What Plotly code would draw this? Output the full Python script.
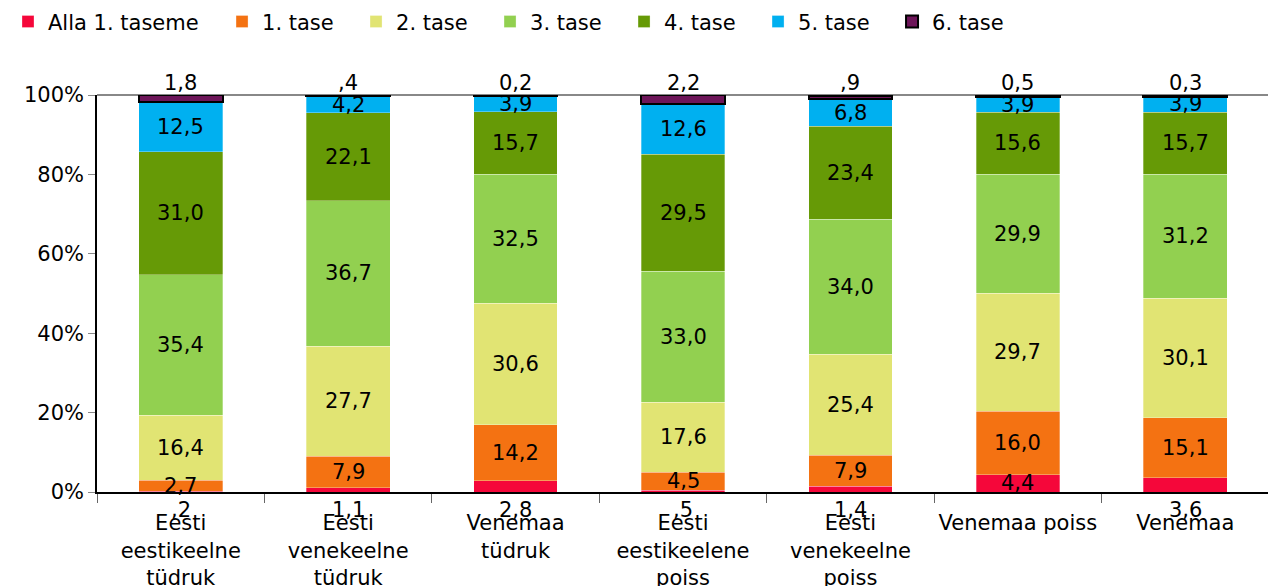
import numpy as np
import plotly.graph_objects as go

categories = ["Eesti<br>eestikeelne<br>tüdruk", "Eesti<br>venekeelne<br>tüdruk", "Venemaa<br>tüdruk",
              "Eesti<br>eestikeelene<br>poiss", "Eesti<br>venekeelne<br>poiss", "Venemaa poiss", "Venemaa"]
series_names = ["Alla 1. taseme", "1. tase", "2. tase", "3. tase", "4. tase", "5. tase", "6. tase"]

alla = [0.2, 1.1, 2.8, 0.5, 1.4, 4.4, 3.6]
tase1 = [2.7, 7.9, 14.2, 4.5, 7.9, 16.0, 15.1]
tase2 = [16.4, 27.7, 30.6, 17.6, 25.4, 29.7, 30.1]
tase3 = [35.4, 36.7, 32.5, 33.0, 34.0, 29.9, 31.2]
tase4 = [31.0, 22.1, 15.7, 29.5, 23.4, 15.6, 15.7]
tase5 = [12.5, 4.2, 3.9, 12.6, 6.8, 3.9, 3.9]
tase6 = [1.8, 0.4, 0.2, 2.2, 0.9, 0.5, 0.3]

# label texts as printed in the source
alla_text = [",2", "1,1", "2,8", ",5", "1,4", "4,4", "3,6"]
tase6_text = ["1,8", ",4", "0,2", "2,2", ",9", "0,5", "0,3"]
ytick_vals = [0, 20, 40, 60, 80, 100]
ytick_text = ["0%", "20%", "40%", "60%", "80%", "100%"]

colors = ["#F5073A", "#F47212", "#E1E473", "#92D050", "#669A06", "#00B0F0", "#6D1559"]
alla_below_axis = [True, True, True, True, True, False, True]

data = [alla, tase1, tase2, tase3, tase4, tase5, tase6]
FONT = "DejaVu Sans"
FS = 21

fig = go.Figure()
for i, (name, vals) in enumerate(zip(series_names, data)):
    line = dict(width=2, color="black") if i == 6 else dict(width=0.6, color="rgba(255,255,255,0.5)")
    fig.add_trace(go.Bar(
        x=categories, y=vals, name=name,
        marker=dict(color=colors[i], line=line),
        width=0.5, cliponaxis=(i != 6),
        legend="legend" if i == 0 else "legend2",
        hoverinfo="skip",
    ))

def fmt(v):
    return f"{v:.1f}".replace(".", ",")

arr = np.array(data)
cum = np.cumsum(arr, axis=0)
lab_font = dict(family=FONT, size=FS, color="black")
annotations = []
for s in range(7):
    for c, cat in enumerate(categories):
        v = arr[s, c]
        mid = cum[s, c] - v / 2
        if s == 0:
            if alla_below_axis[c]:
                annotations.append(dict(x=cat, y=0, text=alla_text[c], showarrow=False, yshift=-18,
                                        font=lab_font))
            else:
                annotations.append(dict(x=cat, y=mid, text=alla_text[c], showarrow=False, font=lab_font))
        elif s == 6:
            annotations.append(dict(x=cat, y=100, text=tase6_text[c], showarrow=False, yanchor="bottom",
                                    yshift=-2, font=lab_font))
        else:
            annotations.append(dict(x=cat, y=mid, text=fmt(v), showarrow=False, font=lab_font))

fig.update_layout(
    barmode="stack",
    bargap=0.5,
    width=1268, height=578,
    margin=dict(l=89, r=7, t=87, b=94, autoexpand=False),
    paper_bgcolor="white", plot_bgcolor="white",
    font=dict(family=FONT, size=FS, color="black"),
    showlegend=True,
    legend=dict(orientation="h", x=-0.0123, xref="container", xanchor="left",
                y=0.976, yref="container", yanchor="middle", traceorder="normal",
                font=lab_font, itemclick=False),
    legend2=dict(orientation="h", x=0.1688, xref="container", xanchor="left",
                 y=0.976, yref="container", yanchor="middle", entrywidth=89, traceorder="normal",
                 font=lab_font, itemclick=False),
    annotations=annotations,
    shapes=[
        dict(type="line", xref="paper", yref="paper", x0=0, x1=1, y0=1, y1=1,
             line=dict(color="#888888", width=2), layer="below"),
        dict(type="line", xref="paper", yref="paper", x0=1, x1=1, y0=0, y1=1,
             line=dict(color="#888888", width=2), layer="below"),
    ],
)
fig.update_xaxes(
    type="category", showline=True, linecolor="black", linewidth=2,
    ticks="outside", tickson="boundaries", ticklen=9, tickcolor="#666666", tickwidth=1,
    tickfont=lab_font, ticklabelstandoff=11, tickangle=0,
    showgrid=False,
)
fig.update_yaxes(
    range=[0, 100], tickmode="array", tickvals=ytick_vals, ticktext=ytick_text,
    showline=True, linecolor="black", linewidth=1.5,
    ticks="outside", ticklen=7, tickcolor="#888888",
    tickfont=lab_font, showgrid=False, zeroline=False,
)

fig.write_html("out.html")
